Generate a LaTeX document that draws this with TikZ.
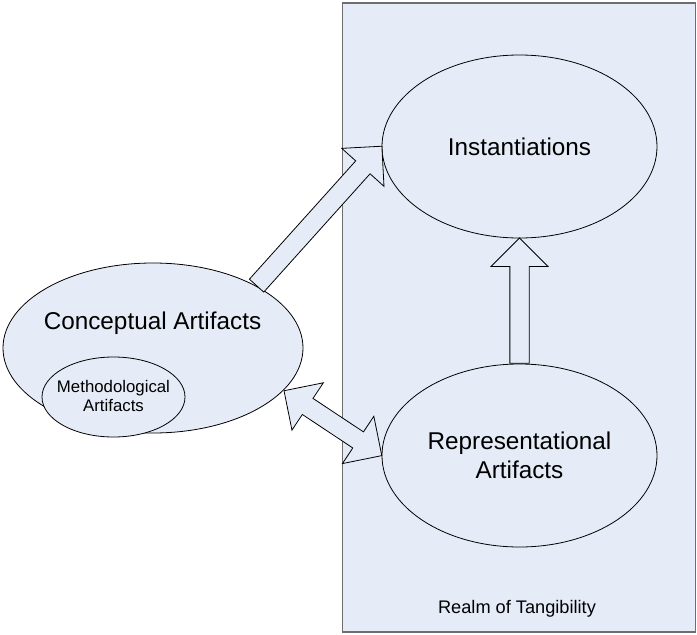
\documentclass[tikz,border=0pt]{standalone}
\usepackage{fontspec}
\setmainfont{Liberation Sans}
\usepackage{xcolor}
\usepackage{tikz}
\usetikzlibrary{shapes.geometric}
\usetikzlibrary{shapes.arrows}
\usetikzlibrary{calc}

\definecolor{paleblue}{HTML}{E6ECF7}
\definecolor{framegray}{HTML}{6E6E6E}

\newcommand{\fatarrow}[4]{\path let \p1=(#3), \p2=(#4), \n1={atan2(\y2-\y1,\x2-\x1)}, \n2={veclen(\x2-\x1,\y2-\y1)} in node[#1, minimum height=\n2, rotate=\n1, anchor=#2] at (\p1) {};}

\begin{document}
\begin{tikzpicture}[x=1pt, y=-1pt,
  artifact/.style={ellipse, draw, fill=paleblue, line width=0.8pt, inner sep=0pt, align=center, font=\fontsize{24.3}{29.5}\selectfont},
  oneway/.style={single arrow, draw, fill=paleblue, line width=0.8pt, inner xsep=0pt, inner ysep=9.25pt, single arrow head extend=18.75pt, single arrow tip angle=90},
  twoway/.style={double arrow, draw, fill=paleblue, line width=0.8pt, inner xsep=0pt, inner ysep=9.25pt, double arrow head extend=18.75pt, double arrow tip angle=90}]
  \useasboundingbox (0,0) rectangle (697,635);
  \node[draw=framegray, fill=paleblue, line width=1.6pt, minimum width=353pt, minimum height=629pt, inner sep=0pt] (realm) at (519,317.5) {};
  \node[font=\fontsize{18.2}{22}\selectfont] (realmtext) at (517,609) {Realm of Tangibility};
  \node[artifact, minimum width=275pt, minimum height=183pt] (inst) at (519.5,146.5) {Instantiations};
  \node[artifact, minimum width=275pt, minimum height=183pt] (repr) at (519.5,455.5) {Representational\\Artifacts};
  \node[artifact, minimum width=300pt, minimum height=170pt] (conc) at (153,348) {};
  \node[font=\fontsize{24.3}{29.5}\selectfont] (conctext) at (152.5,323) {Conceptual Artifacts};
  \node[artifact, minimum width=143pt, minimum height=80pt] (meth) at (113.5,397) {};
  \node[align=center, font=\fontsize{16.8}{19.5}\selectfont] (methtext) at (113.5,396) {Methodological\\Artifacts};
  \fatarrow{oneway}{tail}{conc.31.5}{inst.west}
  \fatarrow{oneway}{tail}{repr.north}{inst.south}
  \fatarrow{twoway}{tip 2}{conc.-18}{repr.west}
\end{tikzpicture}
\end{document}
